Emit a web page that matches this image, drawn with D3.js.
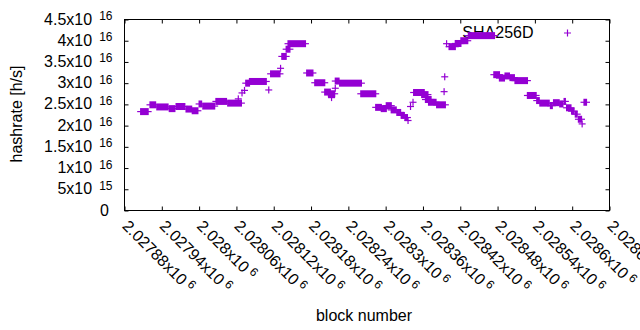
<!DOCTYPE html>
<html>
<head>
<meta charset="utf-8">
<script src="https://cdn.jsdelivr.net/npm/d3@7"></script>
<style>
  html, body { margin: 0; padding: 0; background: #fff; }
  svg { display: block; font-family: "Liberation Sans", Arial, sans-serif; }
</style>
</head>
<body>
<svg id="chart" width="640" height="330"></svg>
<script>
// ---- data (hashrate in units of 1e16 h/s) ----
// runs of consecutive SHA256D blocks with (nearly) the same hashrate
const runStart = [2027906,2027921,2027932,2027952,2027963,2027979,2027989,2028000,2028006,2028027,
  2028046,2028063,2028069,2028073,2028075,2028081,2028112,2028115,2028131,2028133,
  2028140,2028143,2028173,2028186,2028202,2028208,2028213,2028219,2028219,2028226,
  2028260,2028284,2028293,2028301,2028309,2028318,2028325,2028331,2028336,2028340,
  2028344,2028345,2028358,2028364,2028369,2028382,2028395,2028394,2028398,2028402,
  2028412,2028421,2028433,2028474,2028483,2028492,2028500,2028508,2028528,2028543,
  2028548,2028565,2028570,2028580,2028587,2028591,2028599,2028605,2028610,2028616,
  2028619];
const runEnd = [2027918,2027930,2027950,2027961,2027977,2027988,2027998,2028004,2028025,2028044,
  2028068,2028063,2028069,2028073,2028081,2028108,2028112,2028130,2028131,2028140,
  2028146,2028171,2028183,2028202,2028211,2028218,2028213,2028219,2028225,2028261,
  2028284,2028293,2028301,2028309,2028317,2028324,2028330,2028335,2028336,2028340,
  2028344,2028362,2028368,2028373,2028381,2028396,2028395,2028394,2028398,2028412,
  2028421,2028432,2028475,2028483,2028491,2028499,2028507,2028528,2028542,2028547,
  2028563,2028568,2028579,2028585,2028589,2028598,2028603,2028608,2028615,2028616,
  2028623];
const runValue = [2.33,2.49,2.44,2.40,2.45,2.39,2.35,2.51,2.46,2.57,
  2.53,2.63,2.77,2.83,3.00,3.04,2.84,3.22,3.35,3.63,
  3.80,3.93,3.24,3.01,2.79,2.75,2.66,2.88,3.05,3.00,
  2.75,2.43,2.40,2.47,2.37,2.31,2.24,2.19,2.12,2.45,
  2.55,2.78,2.73,2.615,2.55,2.49,3.15,2.80,3.93,3.86,
  3.935,4.00,4.12,3.20,3.12,3.17,3.13,3.06,2.71,2.59,
  2.53,2.47,2.54,2.51,2.57,2.42,2.34,2.27,2.15,2.04,
  2.55];

const xTicks = [2027880,2027940,2028000,2028060,2028120,2028180,2028240,2028300,2028360,2028420,2028480,2028540,2028600,2028660];
const xTickMantissa = ["2.02788","2.02794","2.028","2.02806","2.02812","2.02818","2.02824","2.0283","2.02836","2.02842","2.02848","2.02854","2.0286","2.02866"];
const xTickExp = ["6","6","6","6","6","6","6","6","6","6","6","6","6","6"];
const yTicks = [0,0.5,1,1.5,2,2.5,3,3.5,4,4.5];
const yTickMantissa = ["0","5","1","1.5","2","2.5","3","3.5","4","4.5"];
const yTickExp = ["","15","16","16","16","16","16","16","16","16"];
const seriesName = "SHA256D";
const xTitle = "block number";
const yTitle = "hashrate [h/s]";

// ---- layout ----
const L = 124.5, R = 609.5, T = 19.5, B = 210.5;
const color = "#9400d3";
const tickLen = 4, arm = 3.5;

const svg = d3.select("#chart");
svg.append("rect").attr("width", 640).attr("height", 330).attr("fill", "#fff");

const x = d3.scaleLinear().domain([2027880, 2028660]).range([L, R]);
const y = d3.scaleLinear().domain([0, 4.5]).range([B, T]);

// ticks (inward, mirrored)
const axB = d3.axisBottom(x).tickValues(xTicks).tickSizeInner(-tickLen).tickSizeOuter(0).tickFormat("");
const axT = d3.axisTop(x).tickValues(xTicks).tickSizeInner(-tickLen).tickSizeOuter(0).tickFormat("");
const axL = d3.axisLeft(y).tickValues(yTicks).tickSizeInner(-tickLen).tickSizeOuter(0).tickFormat("");
const axR = d3.axisRight(y).tickValues(yTicks).tickSizeInner(-tickLen).tickSizeOuter(0).tickFormat("");
function styleAx(g){ g.select(".domain").remove(); g.selectAll("line").attr("stroke","#000").attr("stroke-width",1); }
svg.append("g").attr("transform", `translate(0,${B})`).call(axB).call(styleAx);
svg.append("g").attr("transform", `translate(0,${T})`).call(axT).call(styleAx);
svg.append("g").attr("transform", `translate(${L},0)`).call(axL).call(styleAx);
svg.append("g").attr("transform", `translate(${R},0)`).call(axR).call(styleAx);

// border
svg.append("rect").attr("x", L).attr("y", T).attr("width", R - L).attr("height", B - T)
  .attr("fill", "none").attr("stroke", "#000").attr("stroke-width", 1);

// y tick labels
yTicks.forEach((v, i) => {
  const t = svg.append("text").attr("x", yTickExp[i] ? 112.5 : 109).attr("y", y(v) + 5)
    .attr("text-anchor", "end").attr("font-size", 16).attr("fill", "#000");
  if (yTickExp[i]) {
    t.append("tspan").text(yTickMantissa[i] + "x10");
    t.append("tspan").attr("dx", 7).attr("dy", -4.5).attr("font-size", 12).text(yTickExp[i]);
  } else {
    t.text(yTickMantissa[i]);
  }
});

// x tick labels (rotated)
xTicks.forEach((v, i) => {
  const g = svg.append("g").attr("transform", `translate(${x(v) - 3},227) rotate(45)`);
  const t = g.append("text").attr("x", 0).attr("y", 0).attr("font-size", 16).attr("fill", "#000");
  t.append("tspan").text(xTickMantissa[i] + "x10");
  t.append("tspan").attr("dx", 3.5).attr("dy", -5).attr("font-size", 12).text(xTickExp[i]);
});

// axis titles
svg.append("text").attr("x", 364).attr("y", 321).attr("text-anchor", "middle")
  .attr("font-size", 16).attr("fill", "#000").text(xTitle);
svg.append("text").attr("transform", "translate(22,114) rotate(-90)").attr("text-anchor", "middle")
  .attr("font-size", 16).attr("fill", "#000").text(yTitle);

// legend
svg.append("text").attr("x", 533.5).attr("y", 37.5).attr("text-anchor", "end")
  .attr("font-size", 16).attr("fill", "#000").text(seriesName);
const lx = 567.5, ly = 33;
svg.append("path").attr("d", `M${lx - arm},${ly}H${lx + arm}M${lx},${ly - arm}V${ly + arm}`)
  .attr("stroke", color).attr("stroke-width", 1.2).attr("fill", "none");

// data: each run of '+' markers
const runs = runStart.map((s, i) => ({ s, e: runEnd[i], v: runValue[i] }));
const gd = svg.append("g");
gd.selectAll("path.arm").data(runs).join("path").attr("class", "arm")
  .attr("d", d => `M${x(d.s) - arm},${y(d.v)}H${x(d.e) + arm}`)
  .attr("stroke", color).attr("stroke-width", 1.2).attr("fill", "none");
gd.selectAll("rect.core").data(runs).join("rect").attr("class", "core")
  .attr("x", d => x(d.s) - 0.6).attr("width", d => x(d.e) - x(d.s) + 1.2)
  .attr("y", d => y(d.v) - arm).attr("height", 2 * arm)
  .attr("fill", color);
</script>
</body>
</html>
